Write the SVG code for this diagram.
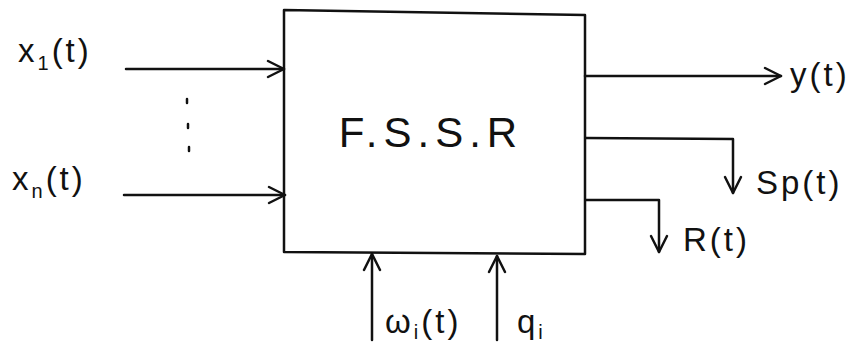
<svg xmlns="http://www.w3.org/2000/svg" width="866" height="347" viewBox="0 0 866 347">
<style>
.ln{fill:none;stroke:#111;stroke-width:2.5;stroke-linecap:round;stroke-linejoin:round}
.t{font-family:"Liberation Sans",Arial,sans-serif;fill:#111;font-size:33px;letter-spacing:3px}
.title{font-size:42px;letter-spacing:6px}
.sub{font-size:20px}
</style>
<defs>
<marker id="ah" viewBox="0 0 20 20" refX="18" refY="10" markerWidth="20" markerHeight="20" markerUnits="userSpaceOnUse" orient="auto">
<path d="M2,2 L18,10 L2,18" fill="none" stroke="#111" stroke-width="2.5" stroke-linecap="round" stroke-linejoin="round"/>
</marker>
</defs>
<rect width="866" height="347" fill="#fff"/>
<g id="fssr">
<path class="ln" d="M284,10 L585,15 L585,254 L284,252 Z"/>
<text class="t title" x="431" y="147" text-anchor="middle">F.S.S.R</text>
</g>
<g id="connectors">
<line class="ln" x1="126" y1="69" x2="284" y2="69" marker-end="url(#ah)"/>
<line class="ln" x1="124" y1="195" x2="285" y2="195" marker-end="url(#ah)"/>
<line class="ln" x1="585" y1="76" x2="781" y2="76" marker-end="url(#ah)"/>
<polyline class="ln" points="586,138 733,139 733,193" marker-end="url(#ah)"/>
<polyline class="ln" points="586,200 659,200 659,252" marker-end="url(#ah)"/>
<line class="ln" x1="372" y1="340" x2="372" y2="254" marker-end="url(#ah)"/>
<line class="ln" x1="497" y1="340" x2="497" y2="256" marker-end="url(#ah)"/>
</g>
<g id="dots">
<line class="ln" x1="187" y1="99" x2="187" y2="103"/>
<line class="ln" x1="188" y1="124" x2="188" y2="128"/>
<line class="ln" x1="189" y1="147" x2="189" y2="151"/>
</g>
<g id="labels">
<text class="t" x="18" y="62">x<tspan class="sub" dy="8">1</tspan><tspan dy="-8">(t)</tspan></text>
<text class="t" x="12" y="190">x<tspan class="sub" dy="8">n</tspan><tspan dy="-8">(t)</tspan></text>
<text class="t" x="790" y="86">y(t)</text>
<text class="t" x="756" y="194">Sp(t)</text>
<text class="t" x="683" y="251">R(t)</text>
<text class="t" x="385" y="333">ω<tspan class="sub" dy="6">i</tspan><tspan dy="-6">(t)</tspan></text>
<text class="t" x="517" y="333">q<tspan class="sub" dy="6">i</tspan></text>
</g>
</svg>
